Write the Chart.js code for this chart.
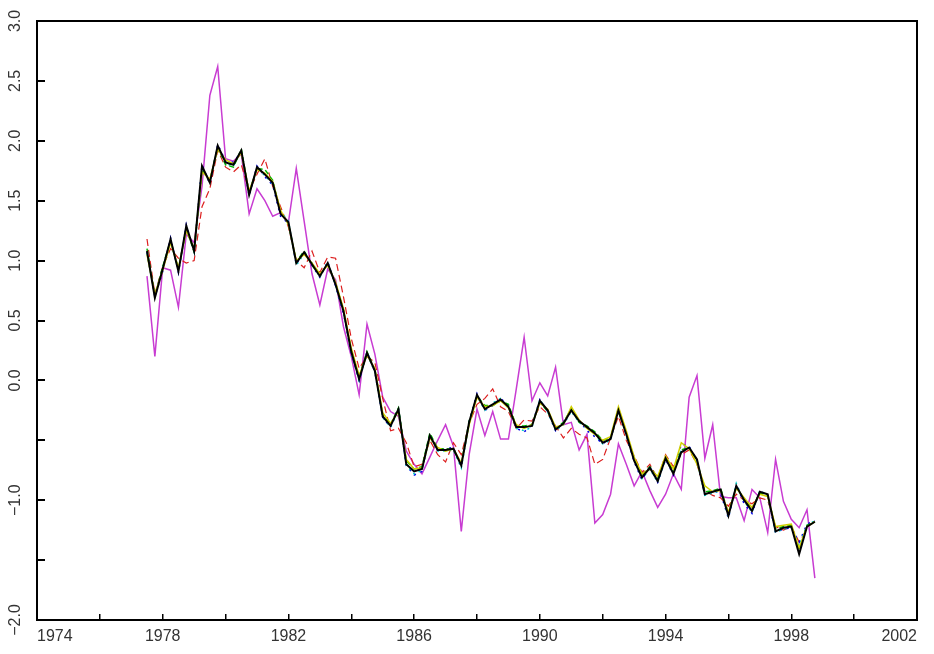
<!DOCTYPE html>
<html>
<head>
<meta charset="utf-8">
<script src="https://cdn.jsdelivr.net/npm/chart.js@4"></script>
<style>
  body { margin: 0; background: #fff; }
  canvas { display: block; }
</style>
</head>
<body>
<canvas id="myChart" width="934" height="654"></canvas>
<script>
let ctx = document.getElementById('myChart')

// quarterly observations, 1977 Q3 .. 1998 Q4
const firstQuarter = 1977.5
const nQuarters = 86
const quarters = []
for (let i = 0; i < nQuarters; i++) quarters.push(firstQuarter + i * 0.25)

const blackSeries = [1.08,0.69,0.93,1.18,0.91,1.29,1.08,1.79,1.65,1.96,
  1.82,1.80,1.92,1.55,1.78,1.72,1.65,1.39,1.32,0.98,
  1.07,0.97,0.87,0.98,0.80,0.58,0.24,0.01,0.23,0.08,
  -0.30,-0.38,-0.24,-0.70,-0.76,-0.74,-0.46,-0.58,-0.58,-0.57,
  -0.71,-0.35,-0.12,-0.24,-0.20,-0.16,-0.22,-0.39,-0.39,-0.38,
  -0.17,-0.25,-0.41,-0.36,-0.25,-0.34,-0.39,-0.44,-0.52,-0.49,
  -0.25,-0.45,-0.67,-0.81,-0.73,-0.84,-0.65,-0.78,-0.60,-0.56,
  -0.66,-0.95,-0.93,-0.91,-1.13,-0.88,-1.00,-1.09,-0.93,-0.95,
  -1.26,-1.23,-1.22,-1.45,-1.22,-1.18]

const magentaSeries = [0.87,0.20,0.94,0.92,0.61,1.22,1.15,1.62,2.38,2.62,
  1.85,1.83,1.89,1.39,1.60,1.50,1.37,1.40,1.32,1.77,
  1.33,0.89,0.63,0.93,0.84,0.45,0.20,-0.12,0.47,0.22,
  -0.14,-0.26,-0.30,-0.59,-0.70,-0.78,-0.64,-0.50,-0.37,-0.55,
  -1.26,-0.62,-0.24,-0.46,-0.26,-0.49,-0.49,-0.07,0.36,-0.17,
  -0.02,-0.13,0.11,-0.37,-0.35,-0.58,-0.45,-1.19,-1.12,-0.95,
  -0.53,-0.70,-0.88,-0.76,-0.92,-1.06,-0.95,-0.78,-0.91,-0.14,
  0.04,-0.65,-0.37,-0.97,-0.98,-0.98,-1.17,-0.91,-0.98,-1.27,
  -0.66,-1.01,-1.16,-1.23,-1.08,-1.65]

const yellowSeries = [1.05,0.72,0.92,1.15,0.94,1.25,1.10,1.74,1.68,1.93,
  1.84,1.81,1.90,1.58,1.76,1.73,1.66,1.42,1.30,1.00,
  1.05,0.98,0.89,0.96,0.82,0.60,0.27,0.04,0.21,0.10,
  -0.27,-0.36,-0.26,-0.66,-0.74,-0.73,-0.48,-0.56,-0.59,-0.57,
  -0.69,-0.37,-0.14,-0.22,-0.21,-0.17,-0.23,-0.37,-0.40,-0.37,
  -0.19,-0.24,-0.39,-0.37,-0.22,-0.33,-0.40,-0.45,-0.50,-0.47,
  -0.22,-0.42,-0.64,-0.78,-0.74,-0.80,-0.63,-0.74,-0.52,-0.57,
  -0.70,-0.88,-0.93,-0.92,-1.10,-0.90,-0.98,-1.06,-0.95,-0.97,
  -1.22,-1.21,-1.20,-1.40,-1.22,-1.18]

const greenSeries = [1.10,0.70,0.95,1.17,0.93,1.27,1.07,1.76,1.66,1.95,
  1.80,1.78,1.93,1.56,1.77,1.76,1.67,1.40,1.31,0.99,
  1.08,0.96,0.88,0.97,0.81,0.59,0.25,0.03,0.24,0.09,
  -0.29,-0.37,-0.23,-0.67,-0.74,-0.72,-0.44,-0.57,-0.57,-0.58,
  -0.70,-0.34,-0.13,-0.21,-0.21,-0.17,-0.20,-0.38,-0.38,-0.37,
  -0.18,-0.26,-0.40,-0.35,-0.24,-0.35,-0.38,-0.43,-0.50,-0.48,
  -0.26,-0.44,-0.65,-0.79,-0.72,-0.82,-0.64,-0.76,-0.58,-0.56,
  -0.67,-0.93,-0.92,-0.90,-1.11,-0.89,-0.99,-1.07,-0.94,-0.96,
  -1.24,-1.22,-1.21,-1.42,-1.21,-1.18]

const cyanSeries = [1.06,0.71,0.94,1.16,0.92,1.26,1.09,1.77,1.67,1.94,
  1.81,1.79,1.91,1.57,1.77,1.71,1.64,1.41,1.33,0.96,
  1.06,0.98,0.86,0.99,0.79,0.57,0.22,0.00,0.22,0.07,
  -0.31,-0.39,-0.25,-0.71,-0.78,-0.75,-0.47,-0.59,-0.59,-0.58,
  -0.73,-0.36,-0.13,-0.25,-0.19,-0.15,-0.23,-0.40,-0.42,-0.39,
  -0.16,-0.26,-0.42,-0.37,-0.26,-0.35,-0.40,-0.45,-0.53,-0.50,
  -0.24,-0.46,-0.66,-0.82,-0.74,-0.85,-0.66,-0.77,-0.58,-0.57,
  -0.67,-0.96,-0.94,-0.92,-1.14,-0.86,-1.01,-1.10,-0.92,-0.96,
  -1.27,-1.24,-1.23,-1.38,-1.21,-1.17]

const blueSeries = [1.07,0.70,0.91,1.19,0.90,1.30,1.07,1.80,1.64,1.97,
  1.83,1.82,1.91,1.54,1.79,1.70,1.63,1.37,1.31,0.97,
  1.08,0.96,0.86,0.99,0.79,0.56,0.23,0.00,0.24,0.07,
  -0.31,-0.39,-0.23,-0.71,-0.79,-0.76,-0.45,-0.59,-0.57,-0.56,
  -0.72,-0.34,-0.11,-0.25,-0.21,-0.15,-0.21,-0.40,-0.43,-0.37,
  -0.16,-0.26,-0.42,-0.35,-0.24,-0.33,-0.42,-0.47,-0.53,-0.48,
  -0.23,-0.46,-0.68,-0.83,-0.72,-0.85,-0.66,-0.79,-0.53,-0.55,
  -0.67,-0.96,-0.92,-0.94,-1.15,-0.87,-1.03,-1.11,-0.92,-0.97,
  -1.27,-1.24,-1.23,-1.35,-1.20,-1.17]

const redSeries = [1.18,0.72,0.95,1.10,1.02,0.98,1.00,1.45,1.60,1.92,
  1.78,1.74,1.80,1.58,1.72,1.85,1.62,1.45,1.28,1.00,
  0.94,1.08,0.90,1.03,1.02,0.70,0.35,0.10,0.20,0.15,
  -0.15,-0.42,-0.40,-0.52,-0.72,-0.70,-0.50,-0.62,-0.68,-0.52,
  -0.62,-0.36,-0.20,-0.15,-0.07,-0.22,-0.26,-0.40,-0.33,-0.34,
  -0.22,-0.28,-0.38,-0.48,-0.40,-0.45,-0.48,-0.70,-0.66,-0.48,
  -0.30,-0.50,-0.63,-0.77,-0.70,-0.82,-0.62,-0.72,-0.62,-0.58,
  -0.70,-0.92,-0.96,-0.98,-1.05,-0.95,-1.00,-1.03,-0.98,-1.00,
  -1.22,-1.25,-1.22,-1.35,-1.24,null]

const yTickValues = [3, 2.5, 2, 1.5, 1, 0.5, 0, -0.5, -1, -1.5, -2]
const yTicksShown = [3, 2.5, 2, 1.5, 1, 0.5, 0, -1, -2]
const xLabelYears = [1974, 1978, 1982, 1986, 1990, 1994, 1998, 2002]

const tickFont = { family: 'Liberation Sans', size: 16 }

// box round the plot area, plus inward tick marks on the left axis
const frame = {
  id: 'frame',
  afterDraw(chart) {
    const a = chart.chartArea
    const c = chart.ctx
    const yScale = chart.scales['y']
    c.save()
    c.strokeStyle = '#000'
    c.lineWidth = 2
    c.strokeRect(a.left, a.top, a.right - a.left, a.bottom - a.top)
    c.beginPath()
    yTickValues.forEach(v => {
      const py = Math.round(yScale.getPixelForValue(v))
      c.moveTo(a.left, py)
      c.lineTo(a.left + 8, py)
    })
    c.stroke()
    c.restore()
  }
}

let myChart = new Chart(ctx, {
    type: 'line',
    data: {
        labels: quarters,
        datasets: [{
            label: 'black',
            data: blackSeries,
            borderColor: '#000000',
            borderWidth: 2,
            order: 0,
        },{
            label: 'yellow',
            data: yellowSeries,
            borderColor: '#d0d000',
            borderWidth: 1.5,
            order: 1,
        },{
            label: 'green',
            data: greenSeries,
            borderColor: '#00b400',
            borderWidth: 1.5,
            borderDash: [5, 3],
            order: 2,
        },{
            label: 'cyan',
            data: cyanSeries,
            borderColor: '#00c8c8',
            borderWidth: 1.5,
            borderDash: [2, 4],
            order: 3,
        },{
            label: 'blue',
            data: blueSeries,
            borderColor: '#0000e6',
            borderWidth: 1.5,
            borderDash: [2, 5],
            order: 4,
        },{
            label: 'red',
            data: redSeries,
            borderColor: '#dc1e1e',
            borderWidth: 1.2,
            borderDash: [7, 4],
            order: 5,
        },{
            label: 'magenta',
            data: magentaSeries,
            borderColor: '#c83cd2',
            borderWidth: 1.5,
            order: 6,
        }]
    },
    options: {
        responsive: false,
        animation: false,
        layout: { padding: { top: 21, right: 17, left: 0, bottom: 0 } },
        elements: { point: { radius: 0 }, line: { tension: 0 } },
        plugins: { legend: { display: false }, tooltip: { enabled: false } },
        scales: {
            x: {
                type: 'linear',
                min: 1974,
                max: 2002,
                afterFit: s => { s.height = 34 },
                grid: { drawOnChartArea: false, tickLength: -6, color: '#000', lineWidth: 1.5 },
                border: { color: '#000', width: 2 },
                ticks: {
                    stepSize: 2,
                    autoSkip: false,
                    maxRotation: 0,
                    align: 'inner',
                    padding: 13,
                    color: '#333',
                    font: tickFont,
                    callback: v => xLabelYears.includes(v) ? String(v) : ''
                }
            },
            y: {
                min: -2,
                max: 3,
                afterFit: s => { s.width = 37 },
                grid: { drawOnChartArea: false, drawTicks: false },
                border: { color: '#000', width: 2 },
                ticks: {
                    stepSize: 0.5,
                    autoSkip: false,
                    minRotation: 90,
                    maxRotation: 90,
                    crossAlign: 'center',
                    padding: 6,
                    color: '#333',
                    font: tickFont,
                    callback: v => yTicksShown.includes(v) ? v.toFixed(1).replace('-', '\u2212') : ''
                }
            }
        }
    },
    plugins: [frame]
 }
)
</script>
</body>
</html>
